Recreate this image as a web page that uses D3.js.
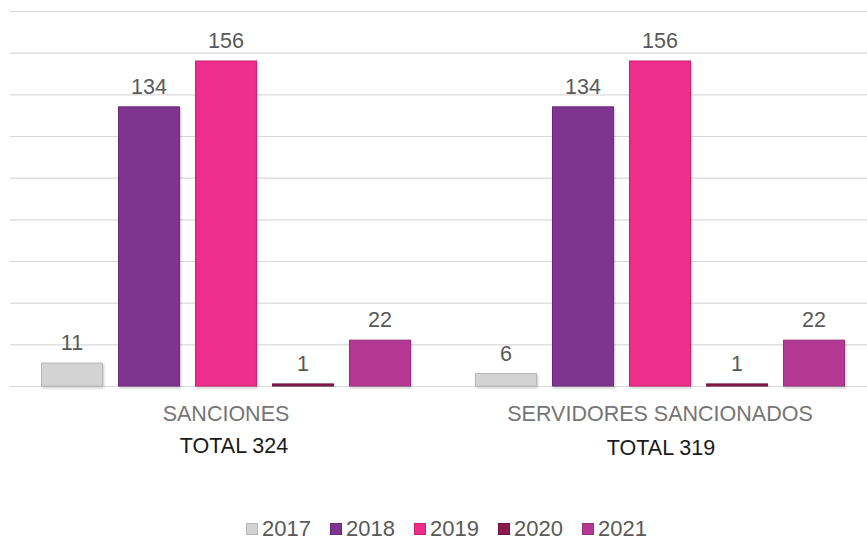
<!DOCTYPE html>
<html>
<head>
<meta charset="utf-8">
<script src="https://cdn.jsdelivr.net/npm/d3@7"></script>
<style>
  html, body { margin: 0; padding: 0; background: #fff; }
  text { font-family: "Liberation Sans", Arial, sans-serif; }
</style>
</head>
<body>
<svg id="chart" width="867" height="540"></svg>
<script>
const categories = ["SANCIONES", "SERVIDORES SANCIONADOS"];
const totals = ["TOTAL 324", "TOTAL 319"];
const years = ["2017", "2018", "2019", "2020", "2021"];
const values2017 = [11, 6];
const values2018 = [134, 134];
const values2019 = [156, 156];
const values2020 = [1, 1];
const values2021 = [22, 22];
const colors = ["#d3d3d3", "#7f3590", "#ee2d8c", "#8b1a4f", "#b53994"];
const strokes = ["#b8b8b8", "#6a2a79", "#c9236f", "#6e1440", "#95307a"];
const yTicks = [0, 20, 40, 60, 80, 100, 120, 140, 160, 180];

const series = [values2017, values2018, values2019, values2020, values2021];

const svg = d3.select("#chart");
const W = 867;

const x0 = d3.scaleBand().domain(categories).range([9, 877]).paddingInner(0).paddingOuter(0);
const x1 = d3.scaleBand().domain(years).range([0, x0.bandwidth()]).paddingInner(0.195).paddingOuter(0.4155);
const y = d3.scaleLinear().domain([0, 180]).range([386, 11]);

const defs = svg.append("defs");
const f = defs.append("filter").attr("id", "shadow").attr("x", "-20%").attr("y", "-20%").attr("width", "140%").attr("height", "140%");
f.append("feDropShadow").attr("dx", 1).attr("dy", 1.5).attr("stdDeviation", 1.2).attr("flood-color", "#000").attr("flood-opacity", 0.22);

// gridlines
const grid = svg.append("g")
  .attr("transform", "translate(10,0)")
  .call(d3.axisLeft(y).tickValues(yTicks).tickSize(-(W - 10)).tickFormat(""));
grid.select(".domain").remove();
grid.selectAll(".tick line").attr("stroke", "#d9d9d9").attr("stroke-width", 1.2);

// bars
categories.forEach((cat, ci) => {
  const g = svg.append("g").attr("transform", `translate(${x0(cat)},0)`);
  years.forEach((yr, si) => {
    const v = series[si][ci];
    g.append("rect")
      .attr("x", x1(yr) + 0.5)
      .attr("y", y(v))
      .attr("width", x1.bandwidth() - 1)
      .attr("height", y(0) - y(v))
      .attr("fill", colors[si])
      .attr("stroke", strokes[si])
      .attr("stroke-width", 1)
      .attr("filter", "url(#shadow)");
    g.append("text")
      .attr("x", x1(yr) + x1.bandwidth() / 2)
      .attr("y", y(v) - 13)
      .attr("text-anchor", "middle")
      .attr("font-size", 21.5)
      .attr("fill", "#595959")
      .text(v);
  });
});

// category axis labels
const xAxis = svg.append("g").attr("transform", `translate(0,${y(0)})`)
  .call(d3.axisBottom(x0).tickSize(0).tickPadding(0));
xAxis.select(".domain").remove();
xAxis.selectAll(".tick text")
  .attr("y", 35)
  .attr("dy", 0)
  .attr("font-size", 21.5)
  .attr("font-family", "Liberation Sans, Arial, sans-serif")
  .attr("fill", "#757575");

const totalOffsets = [8, 1];
const totalY = [453, 455];
categories.forEach((cat, ci) => {
  svg.append("text")
    .attr("x", x0(cat) + x0.bandwidth() / 2 + totalOffsets[ci])
    .attr("y", totalY[ci])
    .attr("text-anchor", "middle")
    .attr("font-size", 21.5)
    .attr("fill", "#1a1a1a")
    .text(totals[ci]);
});

// legend
const legend = svg.append("g").attr("transform", "translate(246,536)");
years.forEach((yr, i) => {
  const lg = legend.append("g").attr("transform", `translate(${i * 84},0)`);
  lg.append("rect")
    .attr("x", 0.5).attr("y", -12.5)
    .attr("width", 11).attr("height", 11)
    .attr("fill", colors[i])
    .attr("stroke", strokes[i]);
  lg.append("text")
    .attr("x", 16).attr("y", 0)
    .attr("font-size", 22)
    .attr("fill", "#595959")
    .text(yr);
});
</script>
</body>
</html>
